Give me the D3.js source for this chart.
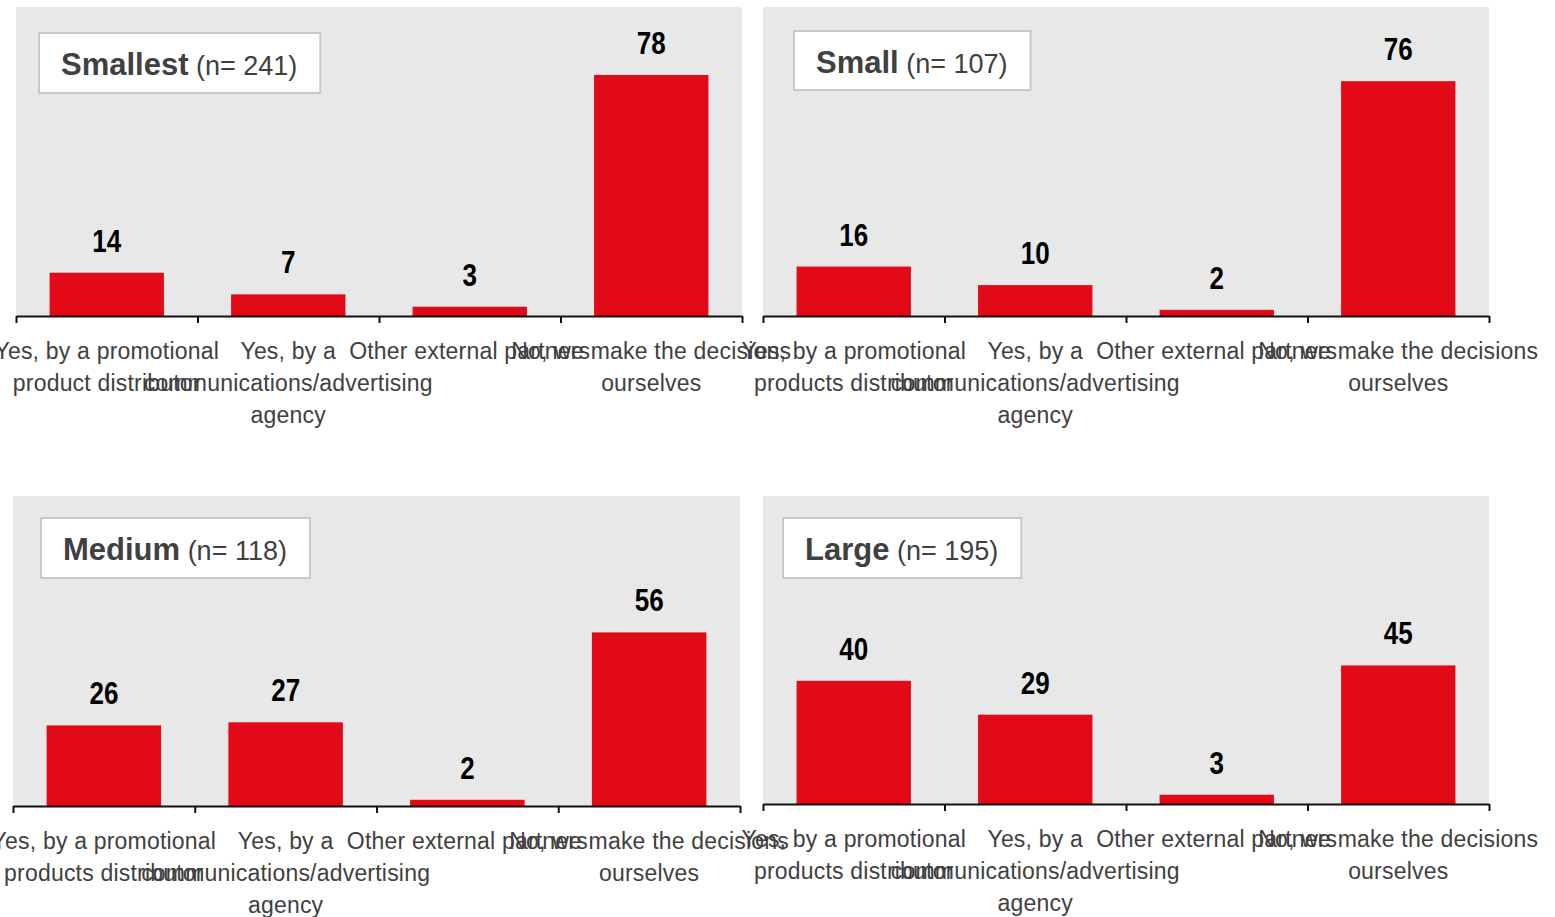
<!DOCTYPE html>
<html>
<head>
<meta charset="utf-8">
<script src="https://cdn.jsdelivr.net/npm/d3@7"></script>
<style>
  html, body { margin: 0; padding: 0; background: #ffffff; }
  svg { display: block; }
</style>
</head>
<body>
<svg id="chart" width="1555" height="917"></svg>
<script>
// ---- data ----
const panelNames = ["Smallest", "Small", "Medium", "Large"];
const panelN = [241, 107, 118, 195];

// category labels, one entry per line of text
const categoriesSmallest = [
  ["Yes, by a promotional", "product distributor"],
  ["Yes, by a", "communications/advertising", "agency"],
  ["Other external partners"],
  ["No, we make the decisions", "ourselves"]
];
const categoriesOther = [
  ["Yes, by a promotional", "products distributor"],
  ["Yes, by a", "communications/advertising", "agency"],
  ["Other external partners"],
  ["No, we make the decisions", "ourselves"]
];

const valuesSmallest = [14, 7, 3, 78];
const valuesSmall    = [16, 10, 2, 76];
const valuesMedium   = [26, 27, 2, 56];
const valuesLarge    = [40, 29, 3, 45];

const yDomain = [0, 100];

// ---- layout of the four panels ----
const panels = [
  { name: panelNames[0], n: panelN[0], cats: categoriesSmallest, values: valuesSmallest,
    x0: 16, x1: 742, top: 7, base: 316, box: { x: 39, y: 33, h: 60 } },
  { name: panelNames[1], n: panelN[1], cats: categoriesOther, values: valuesSmall,
    x0: 763, x1: 1489, top: 7, base: 316, box: { x: 794, y: 31, h: 59 } },
  { name: panelNames[2], n: panelN[2], cats: categoriesOther, values: valuesMedium,
    x0: 13, x1: 740, top: 496, base: 806, box: { x: 41, y: 518, h: 60 } },
  { name: panelNames[3], n: panelN[3], cats: categoriesOther, values: valuesLarge,
    x0: 763, x1: 1489, top: 496, base: 804, box: { x: 783, y: 518, h: 60 } }
];

const BAR = "#e20a17";
const BG = "#e8e8e8";
const TEXT = "#404040";
const SANS = "'Liberation Sans', Arial, Helvetica, sans-serif";

const svg = d3.select("#chart");

panels.forEach(p => {
  const g = svg.append("g");
  const idx = d3.range(p.values.length);

  const x = d3.scaleBand()
    .domain(idx)
    .range([p.x0, p.x1])
    .paddingInner(0.37)
    .paddingOuter(0.185);

  const edges = d3.scaleLinear()
    .domain([0, idx.length])
    .range([p.x0, p.x1]);

  const y = d3.scaleLinear()
    .domain(yDomain)
    .range([p.base, p.top]);

  // plot background
  g.append("rect")
    .attr("x", p.x0).attr("y", p.top)
    .attr("width", p.x1 - p.x0).attr("height", p.base - p.top)
    .attr("fill", BG);

  // bars
  g.selectAll("rect.bar")
    .data(p.values)
    .join("rect")
    .attr("class", "bar")
    .attr("x", (d, i) => x(i))
    .attr("y", d => y(d))
    .attr("width", x.bandwidth())
    .attr("height", d => y(0) - y(d))
    .attr("fill", BAR);

  // value labels (bold, condensed)
  g.selectAll("text.val")
    .data(p.values)
    .join("text")
    .attr("class", "val")
    .attr("transform", (d, i) => `translate(${x(i) + x.bandwidth() / 2},${y(d) - 21}) scale(0.84,1)`)
    .attr("text-anchor", "middle")
    .attr("font-family", SANS)
    .attr("font-weight", "bold")
    .attr("font-size", 31)
    .attr("fill", "#000")
    .text(d => d);

  // axis: baseline with ticks at the band edges
  const axis = d3.axisBottom(edges)
    .tickValues(d3.range(idx.length + 1))
    .tickFormat("")
    .tickSizeOuter(0)
    .tickSizeInner(7);
  const ax = g.append("g")
    .attr("transform", `translate(0,${p.base})`)
    .call(axis);
  ax.select(".domain").attr("stroke", "#111").attr("stroke-width", 2);
  ax.selectAll(".tick line").attr("stroke", "#111").attr("stroke-width", 2);

  // category labels centred under each band
  const labels = g.selectAll("text.cat")
    .data(p.cats)
    .join("text")
    .attr("class", "cat")
    .attr("text-anchor", "middle")
    .attr("font-family", SANS)
    .attr("font-size", 23)
    .attr("letter-spacing", 0.2)
    .attr("fill", TEXT);
  labels.each(function (lines, i) {
    const cx = x(i) + x.bandwidth() / 2;
    d3.select(this).selectAll("tspan")
      .data(lines)
      .join("tspan")
      .attr("x", cx)
      .attr("y", (l, j) => p.base + 43 + j * 32)
      .text(l => l);
  });

  // title box
  const box = g.append("g");
  const rect = box.append("rect")
    .attr("x", p.box.x).attr("y", p.box.y)
    .attr("height", p.box.h)
    .attr("fill", "#ffffff")
    .attr("stroke", "#c8c8c8")
    .attr("stroke-width", 2);
  const title = box.append("text")
    .attr("x", p.box.x + 22)
    .attr("y", p.box.y + 42)
    .attr("font-family", SANS)
    .attr("fill", TEXT);
  title.append("tspan")
    .attr("font-weight", "bold")
    .attr("font-size", 31)
    .text(p.name);
  title.append("tspan")
    .attr("font-size", 27)
    .text(` (n= ${p.n})`);
  const w = title.node().getComputedTextLength();
  rect.attr("width", w + 45);
});
</script>
</body>
</html>
